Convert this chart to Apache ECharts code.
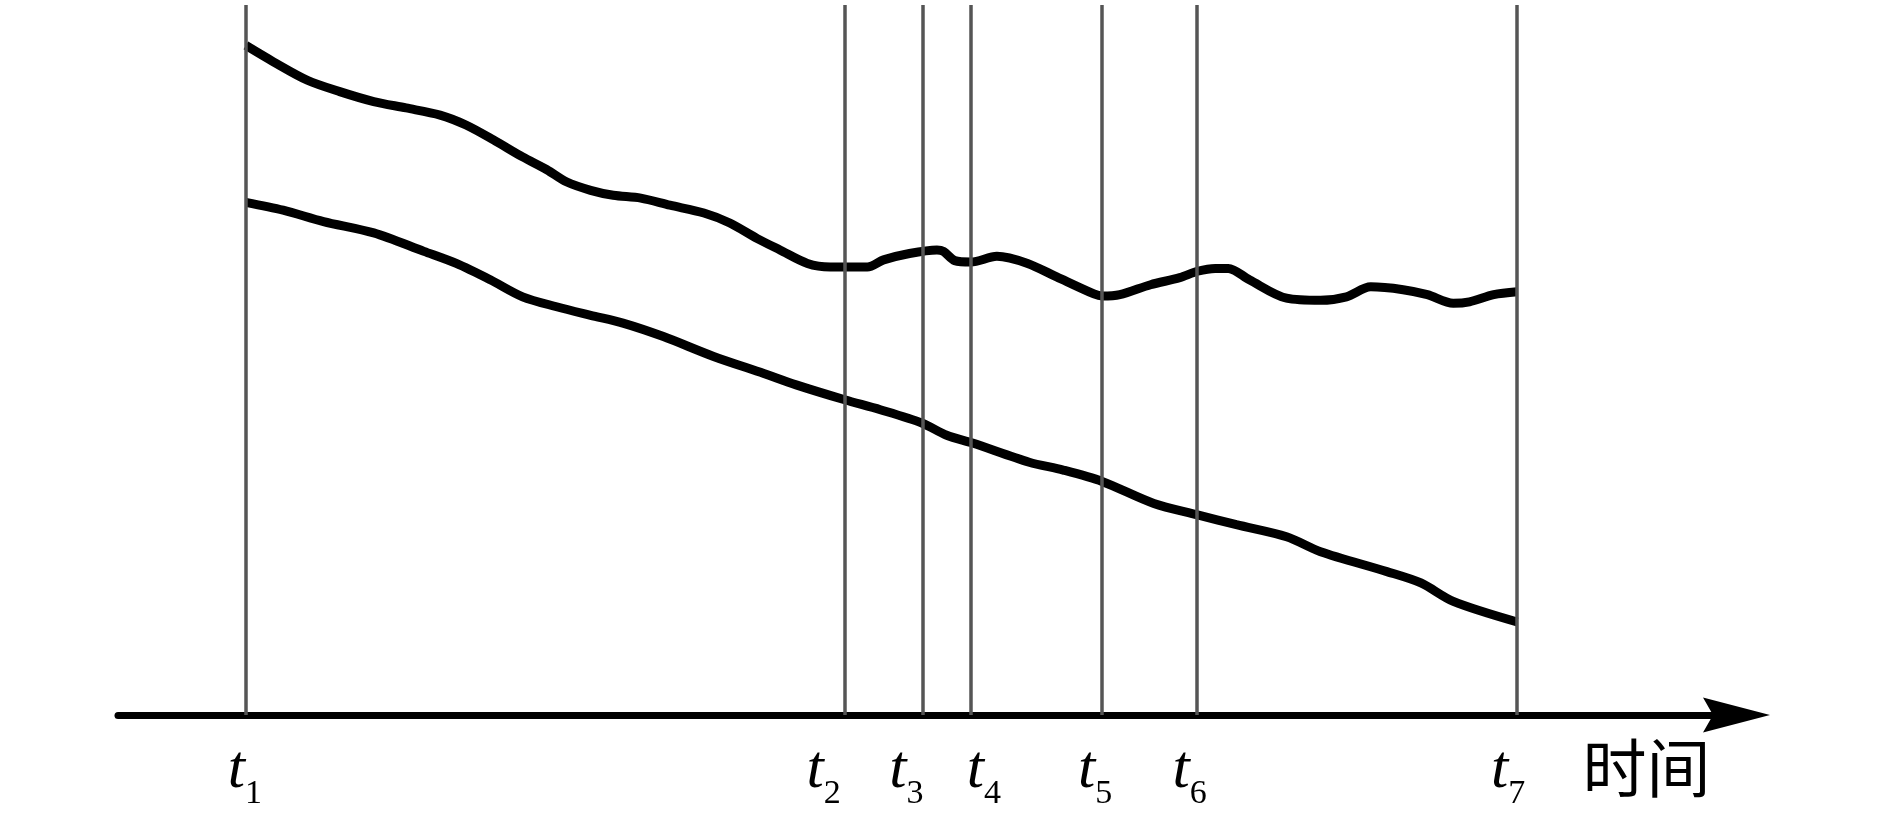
<!DOCTYPE html>
<html>
<head>
<meta charset="utf-8">
<script src="https://cdn.jsdelivr.net/npm/echarts@6/dist/echarts.min.js"></script>
<style>
  html, body { margin: 0; padding: 0; background: #fff; }
  #chart { width: 1890px; height: 815px; }
</style>
</head>
<body>
<div id="chart"></div>
<script>
// time marks t1..t7 on the x axis (axis runs 0..100)
var tTimes = [7.9, 44.9, 49.7, 52.7, 60.8, 66.65, 86.45];
var tNames = ['1', '2', '3', '4', '5', '6', '7'];
var axisName = '时间';

// upper (wavy) curve, [x, y]
var upperCurve = [
    [7.9, 94.3], [9.6, 92.0], [11.7, 89.4], [13.7, 87.8], [15.8, 86.4], [17.8, 85.5],
    [19.9, 84.5], [21.5, 83.1], [23.2, 81.0], [25.0, 78.6], [26.5, 76.8], [27.7, 75.1],
    [29.2, 73.9], [30.6, 73.2], [32.3, 72.8], [34.1, 71.8], [36.2, 70.7], [37.8, 69.3],
    [39.5, 67.1], [40.9, 65.5], [42.6, 63.6], [44.0, 63.1], [44.9, 63.1], [46.3, 63.1],
    [47.3, 64.1], [48.9, 65.0], [50.6, 65.5], [51.0, 65.3], [51.7, 64.0], [52.7, 63.8],
    [54.3, 64.6], [56.2, 63.6], [58.0, 61.7], [60.3, 59.3], [60.8, 59.0], [61.9, 59.2],
    [63.8, 60.6], [65.6, 61.6], [66.7, 62.5], [67.8, 62.9], [68.6, 62.9], [69.9, 61.3],
    [72.2, 58.7], [74.3, 58.4], [75.9, 58.9], [77.4, 60.3], [79.4, 59.9], [80.9, 59.2],
    [82.5, 58.0], [83.5, 58.2], [85.0, 59.2], [86.45, 59.6]
];

// lower (steadily falling) curve, [x, y]
var lowerCurve = [
    [7.9, 72.2], [10.2, 71.1], [12.7, 69.5], [15.8, 67.9], [18.9, 65.3], [20.9, 63.6],
    [23.0, 61.3], [25.0, 58.9], [27.1, 57.5], [29.2, 56.3], [31.2, 55.2], [33.7, 53.3],
    [36.8, 50.5], [39.9, 48.1], [41.9, 46.5], [44.9, 44.4], [47.1, 43.0], [49.7, 41.1],
    [51.2, 39.4], [52.8, 38.3], [56.3, 35.6], [58.4, 34.5], [60.8, 32.9], [64.0, 29.8],
    [66.7, 28.2], [69.1, 26.8], [72.2, 25.1], [74.3, 23.0], [78.4, 20.2], [80.5, 18.6],
    [82.5, 16.0], [86.45, 13.1]
];

// small horizontal nudges (px) of the t labels
var labelShift = [-1, -21, -16, 13, -7, -7, -9];

var chart = echarts.init(document.getElementById('chart'));

var rich = {};
labelShift.forEach(function (d, i) {
    rich['t' + i] = {
        fontFamily: 'Liberation Serif',
        fontStyle: 'italic',
        fontSize: 62,
        color: '#000',
        padding: [0, 0, 0, Math.max(0, 2 * d)]
    };
    rich['s' + i] = {
        fontFamily: 'Liberation Serif',
        fontSize: 34,
        color: '#000',
        padding: [46, Math.max(0, -2 * d), 0, 0]
    };
});

var option = {
    animation: false,
    backgroundColor: '#fff',
    grid: { left: 118, right: 153.5, top: 5, bottom: 100 },
    xAxis: {
        type: 'value',
        min: 0,
        max: 100,
        name: axisName,
        nameLocation: 'end',
        nameGap: 0,
        nameTextStyle: {
            fontFamily: 'Noto Sans CJK SC',
            fontSize: 64,
            color: '#000',
            align: 'right',
            verticalAlign: 'top',
            padding: [21, 26, 0, 0]
        },
        axisLine: {
            lineStyle: { color: '#000', width: 7 },
            // arrow head, centred on the end of the axis line
            symbol: ['none', 'path://M17.5,0 L35,67 L17.5,57 L0,67 Z'],
            symbolSize: [35, 67]
        },
        axisTick: { show: false },
        splitLine: { show: false },
        axisLabel: {
            customValues: tTimes,
            margin: 16,
            formatter: function (value) {
                var i = tTimes.indexOf(value);
                return '{t' + i + '|t}{s' + i + '|' + tNames[i] + '}';
            },
            rich: rich
        }
    },
    yAxis: {
        type: 'value',
        min: 0,
        max: 100,
        show: false
    },
    series: [
        {
            type: 'line',
            data: upperCurve,
            smooth: 0.3,
            symbol: 'none',
            lineStyle: { color: '#000', width: 9 },
            markLine: {
                silent: true,
                symbol: ['none', 'none'],
                label: { show: false },
                lineStyle: { color: '#555', width: 3.5, type: 'solid' },
                data: tTimes.map(function (t) { return { xAxis: t }; })
            },
            z: 3
        },
        {
            type: 'line',
            data: lowerCurve,
            smooth: 0.3,
            symbol: 'none',
            lineStyle: { color: '#000', width: 9 },
            z: 3
        }
    ]
};

chart.setOption(option);
</script>
</body>
</html>
